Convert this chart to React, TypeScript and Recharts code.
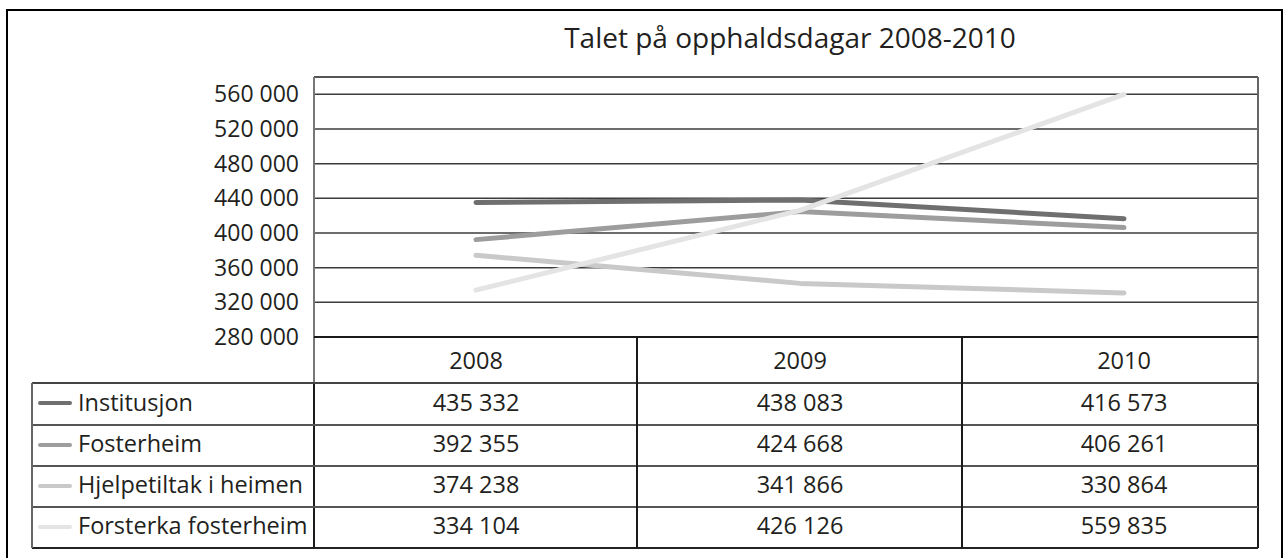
import React from 'react';
import { LineChart, Line, XAxis, YAxis, CartesianGrid } from 'recharts';

const years = ['2008', '2009', '2010'];
const institusjon = [435332, 438083, 416573];
const fosterheim = [392355, 424668, 406261];
const hjelpetiltak = [374238, 341866, 330864];
const forsterka = [334104, 426126, 559835];
const seriesNames = ['Institusjon', 'Fosterheim', 'Hjelpetiltak i heimen', 'Forsterka fosterheim'];
const yTicks = [280000, 320000, 360000, 400000, 440000, 480000, 520000, 560000];
const yDomain = [280000, 580000];
const title = 'Talet på opphaldsdagar 2008-2010';

const seriesValues = [institusjon, fosterheim, hjelpetiltak, forsterka];
const colors = ['#6f6f6f', '#9d9d9d', '#c9c9c9', '#e4e4e4'];
const keys = ['s0', 's1', 's2', 's3'];

const data = years.map((y, i) => {
  const row: Record<string, any> = { year: y };
  seriesValues.forEach((vals, s) => {
    row[keys[s]] = vals[i];
  });
  return row;
});

const fmt = (v: number) => String(v).replace(/\B(?=(\d{3})+(?!\d))/g, ' ');

const FONT = '"Open Sans", "Noto Sans", sans-serif';
const TEXT = '#231f20';

// layout
const W = 1284;
const H = 558;
const PL = 314;
const PR = 1258;
const PT = 77;
const PB = 337;
const YW = 80;
const colW = 324;
const rowEdges = [337, 383, 425, 466, 507, 548];
const colEdges = [32, 314, 637, 962, 1258];

type Seg = { x1: number; y1: number; x2: number; y2: number; w: number; c: string };

const segs: Seg[] = [
  { x1: PL, y1: PT, x2: PR, y2: PT, w: 1.5, c: '#555' },
  { x1: PL, y1: PT, x2: PL, y2: 383, w: 1.5, c: '#777' },
  { x1: PL, y1: 383, x2: PL, y2: 548, w: 2, c: '#1a1a1a' },
  { x1: PR, y1: PT, x2: PR, y2: 383, w: 2, c: '#666' },
  { x1: PR, y1: 383, x2: PR, y2: 548, w: 2, c: '#1a1a1a' },
  { x1: PL, y1: PB, x2: PR, y2: PB, w: 2.5, c: '#1a1a1a' },
  { x1: 32, y1: 383, x2: PR, y2: 383, w: 1.5, c: '#444' },
  { x1: 32, y1: 425, x2: PR, y2: 425, w: 1.5, c: '#555' },
  { x1: 32, y1: 466, x2: PR, y2: 466, w: 1.5, c: '#555' },
  { x1: 32, y1: 507, x2: PR, y2: 507, w: 1.5, c: '#555' },
  { x1: 32, y1: 548, x2: PR, y2: 548, w: 2, c: '#222' },
  { x1: 32, y1: 383, x2: 32, y2: 548, w: 1.5, c: '#666' },
  { x1: 637, y1: 337, x2: 637, y2: 548, w: 2, c: '#1a1a1a' },
  { x1: 962, y1: 337, x2: 962, y2: 548, w: 2, c: '#1a1a1a' },
];

const SegDiv = ({ s }: { s: Seg }) => {
  const horiz = s.y1 === s.y2;
  const style: React.CSSProperties = horiz
    ? { position: 'absolute', left: s.x1, top: s.y1 - s.w / 2, width: s.x2 - s.x1, height: s.w, background: s.c }
    : { position: 'absolute', left: s.x1 - s.w / 2, top: s.y1, width: s.w, height: s.y2 - s.y1, background: s.c };
  return <div style={style} />;
};

export default function App() {
  return (
    <div
      style={{
        position: 'absolute',
        left: 0,
        top: 0,
        width: W,
        height: H,
        overflow: 'hidden',
        background: '#fff',
        fontFamily: FONT,
        color: TEXT,
      }}
    >
      <div style={{ position: 'absolute', left: 6, top: 9, width: 1277, height: 600, border: '2px solid #000', boxSizing: 'border-box' }} />
      <div
        style={{
          position: 'absolute',
          left: 390,
          top: 23,
          width: 800,
          textAlign: 'center',
          fontSize: 28,
          lineHeight: '28px',
          whiteSpace: 'nowrap',
        }}
      >
        {title}
      </div>
      <div style={{ position: 'absolute', left: 0, top: 0 }}>
        <LineChart
          width={W}
          height={H}
          data={data}
          margin={{ top: PT, right: W - PR, bottom: H - PB, left: PL - YW }}
        >
          <CartesianGrid vertical={false} stroke="#3c3c3c" strokeWidth={1.5} />
          <XAxis dataKey="year" hide padding={{ left: colW / 2, right: PR - PL - colW * 2.5 }} />
          <YAxis
            width={YW}
            domain={yDomain}
            ticks={yTicks}
            interval={0}
            tickFormatter={fmt}
            axisLine={false}
            tickLine={false}
            tickSize={0}
            tickMargin={15}
            tick={{ fontSize: 23, fill: TEXT, fontFamily: FONT }}
          />
          {keys.map((k, s) => (
            <Line
              key={k}
              type="linear"
              dataKey={k}
              name={seriesNames[s]}
              stroke={colors[s]}
              strokeWidth={5}
              strokeLinecap="round"
              strokeLinejoin="round"
              dot={false}
              activeDot={false}
              isAnimationActive={false}
            />
          ))}
        </LineChart>
      </div>
      {segs.map((s, i) => (
        <SegDiv key={i} s={s} />
      ))}
      {years.map((y, i) => (
        <div
          key={y}
          style={{
            position: 'absolute',
            left: PL + colW * i,
            top: rowEdges[0],
            width: colW,
            height: rowEdges[1] - rowEdges[0],
            lineHeight: `${rowEdges[1] - rowEdges[0]}px`,
            textAlign: 'center',
            fontSize: 23.5,
          }}
        >
          {y}
        </div>
      ))}
      {seriesNames.map((name, s) => {
        const top = rowEdges[s + 1];
        const h = rowEdges[s + 2] - top;
        return (
          <React.Fragment key={name}>
            <div
              style={{
                position: 'absolute',
                left: 38,
                top: top + h / 2 - 2 - 1,
                width: 34,
                height: 4,
                borderRadius: 2,
                background: colors[s],
              }}
            />
            <div
              style={{
                position: 'absolute',
                left: 78,
                top: top - 2,
                height: h,
                lineHeight: `${h}px`,
                fontSize: 23.5,
                whiteSpace: 'nowrap',
              }}
            >
              {name}
            </div>
            {seriesValues[s].map((v, i) => (
              <div
                key={i}
                style={{
                  position: 'absolute',
                  left: PL + colW * i,
                  top: top - 2,
                  width: colW,
                  height: h,
                  lineHeight: `${h}px`,
                  textAlign: 'center',
                  fontSize: 23.5,
                }}
              >
                {fmt(v)}
              </div>
            ))}
          </React.Fragment>
        );
      })}
    </div>
  );
}
